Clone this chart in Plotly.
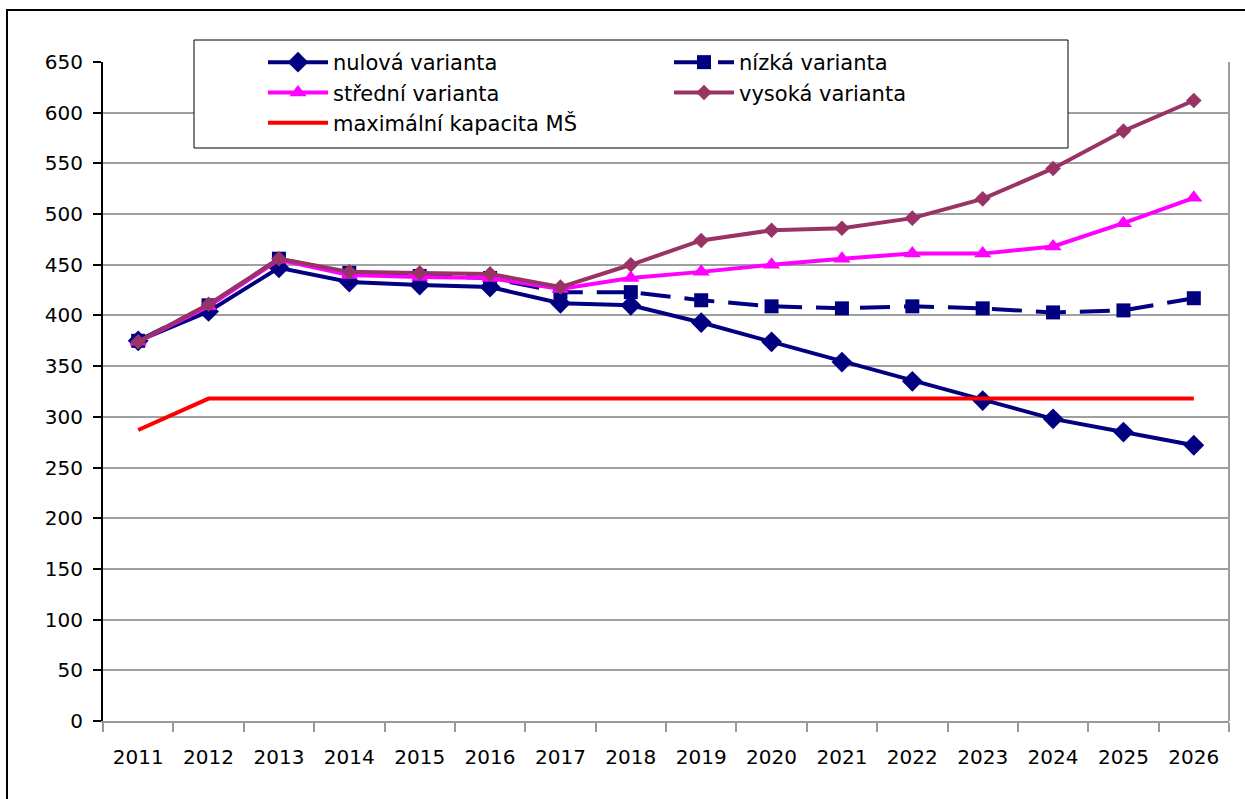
import plotly.graph_objects as go

years = ["2011", "2012", "2013", "2014", "2015", "2016", "2017", "2018",
         "2019", "2020", "2021", "2022", "2023", "2024", "2025", "2026"]
nulova = [375, 404, 447, 433, 430, 428, 412, 410, 393, 374, 354, 335, 316, 298, 285, 272]
nizka = [375, 410, 456, 442, 439, 437, 423, 423, 415, 409, 407, 409, 407, 403, 405, 417]
stredni = [374, 409, 455, 440, 438, 437, 426, 437, 443, 450, 456, 461, 461, 468, 491, 516]
vysoka = [374, 411, 456, 443, 442, 441, 428, 450, 474, 484, 486, 496, 515, 545, 582, 612]
kapacita = [287, 318, 318, 318, 318, 318, 318, 318, 318, 318, 318, 318, 318, 318, 318, 318]
y_ticks = list(range(0, 651, 50))

FONT = "DejaVu Sans"
fig = go.Figure()

fig.add_trace(go.Scatter(x=years, y=nulova, name="nulová varianta", mode="lines+markers",
                         line=dict(color="#000080", width=4),
                         marker=dict(symbol="diamond", size=16, color="#000080"), legendrank=1))
fig.add_trace(go.Scatter(x=years, y=nizka, name="nízká varianta", mode="lines+markers",
                         line=dict(color="#000080", width=4, dash="30px,14px"),
                         marker=dict(symbol="square", size=14, color="#000080"), legendrank=2))
fig.add_trace(go.Scatter(x=years, y=stredni, name="střední varianta", mode="lines+markers",
                         line=dict(color="#FF00FF", width=4),
                         marker=dict(symbol="triangle-up", size=15, color="#FF00FF"), legendrank=3))
fig.add_trace(go.Scatter(x=years, y=vysoka, name="vysoká varianta", mode="lines+markers",
                         line=dict(color="#993366", width=4),
                         marker=dict(symbol="diamond", size=12, color="#993366"), legendrank=4))
fig.add_trace(go.Scatter(x=years, y=kapacita, name="maximální kapacita MŠ", mode="lines",
                         line=dict(color="#FF0000", width=4), legendrank=5))

W, H = 1245, 799
L, R, T, B = 103, 16, 62, 78
pw = W - L - R
ph = H - T - B

fig.update_layout(
    width=W, height=H,
    margin=dict(l=L, r=R, t=T, b=B),
    paper_bgcolor="white", plot_bgcolor="white",
    font=dict(family=FONT, size=20, color="black"),
    showlegend=True,
    legend=dict(
        orientation="h",
        x=(263 - L) / pw, y=(721 - 42) / ph,
        xanchor="left", yanchor="top",
        bgcolor="rgba(0,0,0,0)", borderwidth=0,
        entrywidth=331, entrywidthmode="pixels",
        itemwidth=60,
        font=dict(family=FONT, size=21, color="black"),
        traceorder="normal",
    ),
    xaxis=dict(
        type="category", range=[-0.5, len(years) - 0.5],
        tickson="boundaries", ticks="outside", ticklen=9,
        tickcolor="#999999", tickwidth=2,
        showline=True, linecolor="#999999", linewidth=2, mirror=False,
        showgrid=False, zeroline=False, ticklabelstandoff=17,
        tickfont=dict(family=FONT, size=20, color="black"),
    ),
    yaxis=dict(
        range=[0, 650], tickvals=y_ticks, ticks="outside", ticklen=8,
        tickcolor="black", tickwidth=2,
        showline=True, linecolor="black", linewidth=2,
        showgrid=True, gridcolor="#A0A0A0", gridwidth=2,
        zeroline=False, ticklabelstandoff=6,
        tickfont=dict(family=FONT, size=20, color="black"),
    ),
    shapes=[
        dict(type="line", xref="paper", yref="paper", x0=1, x1=1, y0=0, y1=1,
             line=dict(color="#A0A0A0", width=2)),
        dict(type="rect", xref="paper", yref="paper",
             x0=(7 - L) / pw, x1=1.1, y0=-0.3, y1=(721 - 10) / ph,
             line=dict(color="black", width=2), fillcolor="rgba(0,0,0,0)", layer="below"),
        dict(type="rect", xref="paper", yref="paper",
             x0=(194 - L) / pw, x1=(1068 - L) / pw,
             y0=(721 - 148) / ph, y1=(721 - 40) / ph,
             line=dict(color="black", width=1), fillcolor="white", layer="above"),
    ],
)

fig.write_html("out.html", config={"displayModeBar": False},
               post_script="document.body.style.margin='0';document.body.style.padding='0';")
